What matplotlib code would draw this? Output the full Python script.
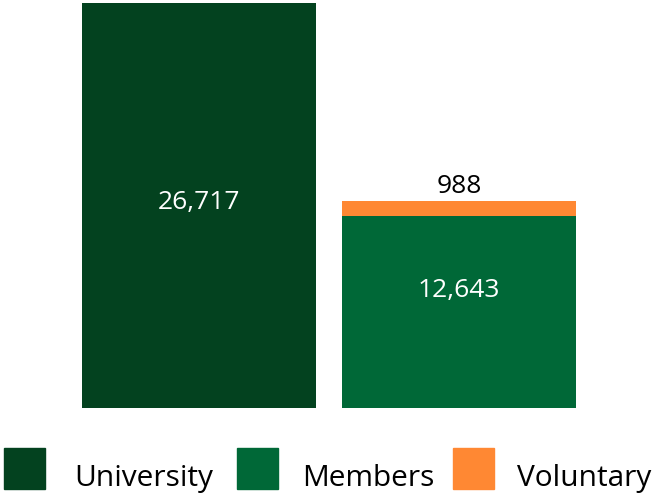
import matplotlib
matplotlib.use("Agg")
import matplotlib.pyplot as plt
from matplotlib.patches import Rectangle

# Data
bar_positions = [0, 1]
university = [26717, 0]
members = [0, 12643]
voluntary = [0, 988]
series_names = ["University", "Members", "Voluntary"]
colors = ["#03421F", "#006837", "#FF8833"]

plt.rcParams["font.family"] = ["Open Sans", "DejaVu Sans"]

W, H = 656, 497
fig = plt.figure(figsize=(W / 100, H / 100), dpi=100)

# axes spanning the bars: x 82..576 px, y from 408 px (bottom) up to top of tallest bar
ax = fig.add_axes([82 / W, (H - 408) / H, (576 - 82) / W, 405 / H])
width = 0.898
ax.bar(bar_positions[0], university[0], width=width, color=colors[0])
ax.bar(bar_positions[1], members[1], width=width, color=colors[1])
ax.bar(bar_positions[1], voluntary[1], width=width, bottom=members[1], color=colors[2])
ax.set_xlim(-0.449, 1.449)
ax.set_ylim(0, max(university))
ax.axis("off")

# value labels (baseline-anchored)
ax.text(bar_positions[0], university[0] / 2 - 230, f"{university[0]:,}", color="white",
        ha="center", va="baseline", fontsize=19)
ax.text(bar_positions[1], members[1] / 2 + 1000, f"{members[1]:,}", color="white",
        ha="center", va="baseline", fontsize=19)
ax.text(bar_positions[1], members[1] + voluntary[1] + 550, f"{voluntary[1]:,}", color="black",
        ha="center", va="baseline", fontsize=19)

# legend drawn along the bottom edge
sq_x = [4, 237, 453]
txt_x = [74, 302, 517]
for sx, tx, name, c in zip(sq_x, txt_x, series_names, colors):
    fig.patches.append(Rectangle((sx / W, (H - 489) / H), 41 / W, 41 / H,
                                 transform=fig.transFigure, color=c))
    fig.text(tx / W, (H - 486) / H, name, fontsize=21.5, va="baseline", ha="left",
             color="black")

fig.savefig("out.png", dpi=100)
